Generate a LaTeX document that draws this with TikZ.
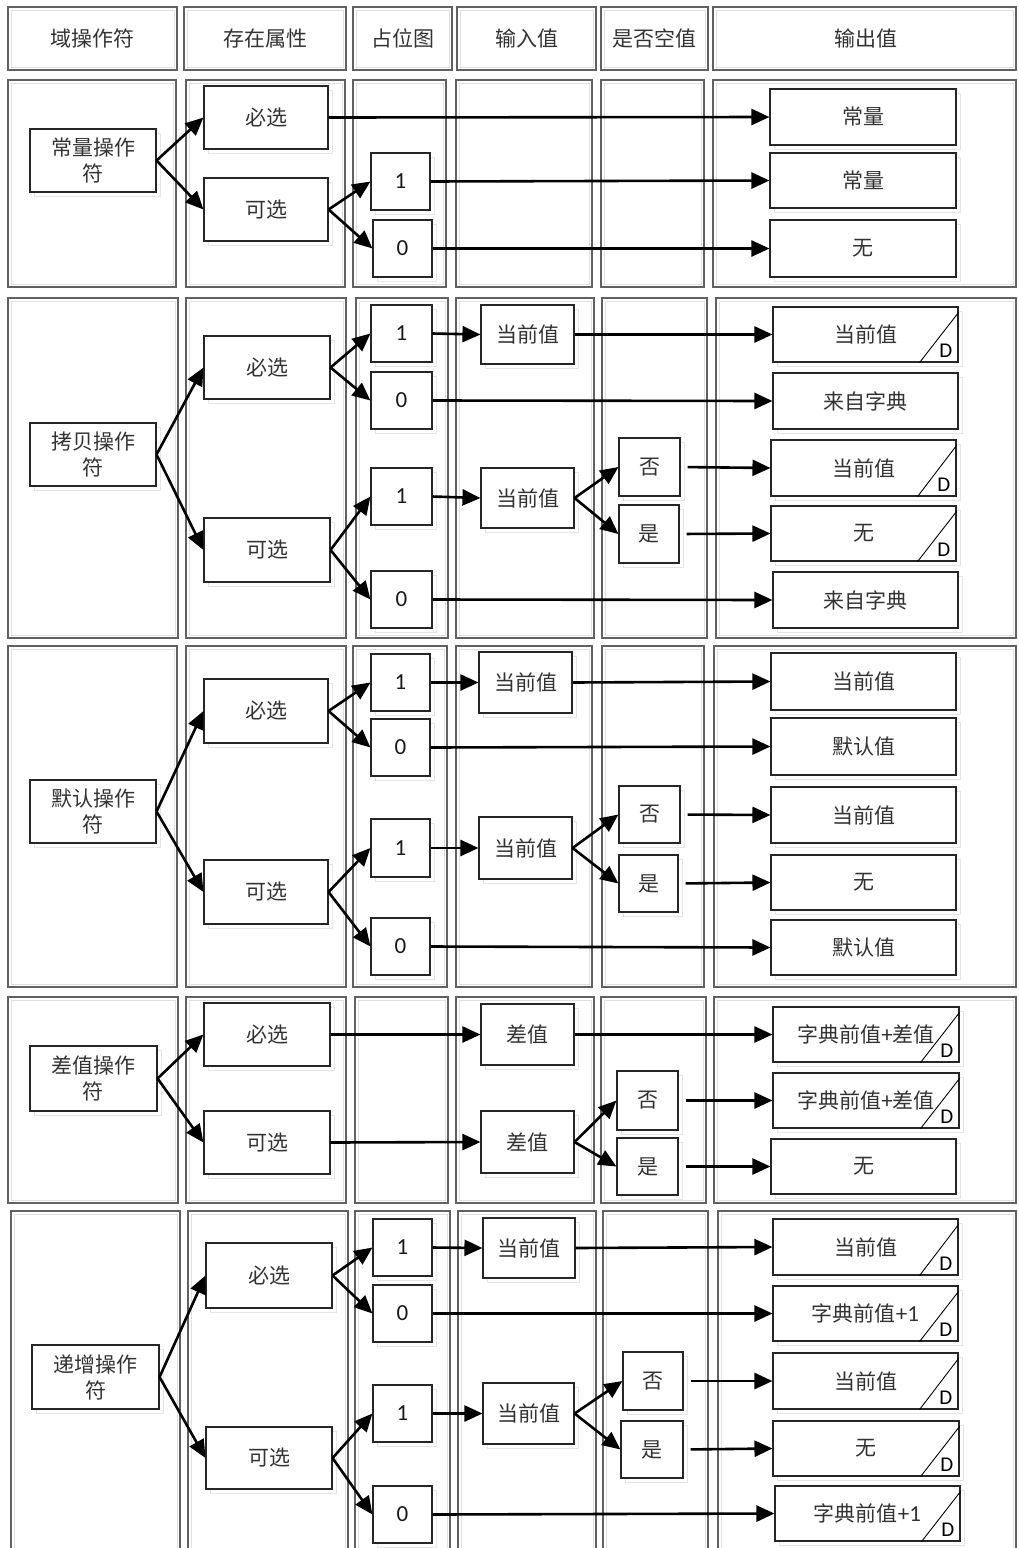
\documentclass[tikz,border=0pt]{standalone}
\usepackage{fontspec}
\setmainfont{Carlito}
\newfontfamily\cjk{Noto Sans CJK SC}
\usetikzlibrary{arrows.meta,calc}
\tikzset{
  colline/.style={draw=black!62, line width=1.1pt},
  colinner/.style={draw=black!12, line width=0.8pt},
  shadeline/.style={draw=black!10, line width=1pt},
  box/.style={draw=black!85, line width=1.1pt, fill=white, inner sep=0pt, align=center,
    text=black!80, font=\cjk\fontsize{21}{26}\selectfont},
  numbox/.style={box, text=black!90, font=\fontsize{23}{26}\selectfont},
  htext/.style={inner sep=0pt, text=black!80, font=\cjk\fontsize{21}{26}\selectfont},
  arr/.style={-{Triangle[length=18pt,width=16pt]}, line width=2.6pt, black},
  gaparr/.style={arr, shorten <=7pt},
  dlabel/.style={inner sep=0pt, text=black, font=\fontsize{21}{21}\selectfont},
  dline/.style={draw=black, line width=0.9pt},
}
\newcommand\colbox[4]{%
  \draw[colline] (#1,#2) rectangle (#3,#4);
  \draw[colinner] (#1+3,#2+3) rectangle (#3-3,#4-3);}
\newcommand\bxt[7][box]{%
  \draw[shadeline] (#3+4,#4+4) rectangle (#5+4,#6+4);
  \node[#1, minimum width={(#5)-(#3)}, minimum height={(#6)-(#4)}] (#2) at ({(#3+#5)/2},{(#4+#6)/2}) {#7};}
\newcommand\dmark[1]{%
  \draw[dline] ($(#1.south east)+(-39,0)$) -- ($(#1.north east)+(0,6)$);
  \node[dlabel, anchor=south east] (#1d) at ($(#1.south east)+(-6,-5)$) {D};}
\newcommand\lat[1]{{\rmfamily\fontsize{23}{26}\selectfont #1}}
\begin{document}
\begin{tikzpicture}[x=1pt,y=-1pt]
\clip (0,0) rectangle (1019,1548);
\fill[white] (0,0) rectangle (1019,1548);

% ---------- header ----------
\colbox{8}{7}{177}{70}
\colbox{184}{7}{346}{70}
\colbox{353}{7}{452}{70}
\colbox{457}{7}{596}{70}
\colbox{601}{7}{708}{70}
\colbox{713}{7}{1016}{70}
\node[htext] (h1) at (92.5,38.5) {域操作符};
\node[htext] (h2) at (265,38.5) {存在属性};
\node[htext] (h3) at (402.5,38.5) {占位图};
\node[htext] (h4) at (526.5,38.5) {输入值};
\node[htext] (h5) at (654.5,38.5) {是否空值};
\node[htext] (h6) at (866,38.5) {输出值};

% ---------- section 1 ----------
\colbox{8}{80}{176}{287}
\colbox{186}{80}{345}{287}
\colbox{353}{80}{446}{287}
\colbox{456}{80}{592}{287}
\colbox{601}{80}{704}{287}
\colbox{713}{80}{1016}{287}
\bxt{a0}{30}{129}{156}{192}{常量操作\\符}
\bxt{a1}{204}{86}{328}{149}{必选}
\bxt{a2}{204}{178}{328}{241}{可选}
\bxt[numbox]{a3}{371}{153}{430}{210}{1}
\bxt[numbox]{a4}{373}{220}{432}{277}{0}
\bxt{a5}{770}{89}{956}{145}{常量}
\bxt{a6}{770}{153}{956}{208}{常量}
\bxt{a7}{770}{220}{956}{277}{无}
\draw[arr] (a0.east) -- (a1.west);
\draw[arr] (a0.east) -- (a2.west);
\draw[arr] (a1.east) -- (a5.west);
\draw[arr] (a2.east) -- (a3.west);
\draw[arr] (a2.east) -- (a4.west);
\draw[arr] (a3.east) -- (a6.west);
\draw[arr] (a4.east) -- (a7.west);

% ---------- section 2 ----------
\colbox{8}{298}{178}{638}
\colbox{186}{298}{346}{638}
\colbox{356}{298}{448}{638}
\colbox{456}{298}{594}{638}
\colbox{602}{298}{707}{638}
\colbox{716}{298}{1016}{638}
\bxt{b0}{30}{423}{156}{486}{拷贝操作\\符}
\bxt{b1}{204}{336}{330}{399}{必选}
\bxt{b2}{204}{518}{330}{582}{可选}
\bxt[numbox]{b3}{371}{305}{432}{362}{1}
\bxt[numbox]{b4}{371}{372}{432}{429}{0}
\bxt[numbox]{b5}{371}{468}{432}{525}{1}
\bxt[numbox]{b6}{371}{571}{432}{628}{0}
\bxt{b7}{481}{305}{574}{364}{当前值}
\bxt{b8}{481}{468}{574}{528}{当前值}
\bxt{b9}{619}{438}{680}{496}{否}
\bxt{b10}{619}{505}{679}{563}{是}
\bxt{b11}{773}{307}{958}{362}{当前值}
\bxt{b12}{773}{373}{958}{429}{来自字典}
\bxt{b13}{771}{440}{956}{496}{当前值}
\bxt{b14}{771}{506}{956}{561}{无}
\bxt{b15}{773}{572}{958}{628}{来自字典}
\dmark{b11}
\dmark{b13}
\dmark{b14}
\draw[arr] (b0.east) -- (b1.west);
\draw[arr] (b0.east) -- (b2.west);
\draw[arr] (b1.east) -- (b3.west);
\draw[arr] (b1.east) -- (b4.west);
\draw[arr] (b2.east) -- (b5.west);
\draw[arr] (b2.east) -- (b6.west);
\draw[arr] (b3.east) -- (b7.west);
\draw[arr] (b7.east) -- (b11.west);
\draw[arr] (b4.east) -- (b12.west);
\draw[arr] (b5.east) -- (b8.west);
\draw[arr] (b8.east) -- (b9.west);
\draw[arr] (b8.east) -- (b10.west);
\draw[gaparr] (b9.east) -- (b13.west);
\draw[gaparr] (b10.east) -- (b14.west);
\draw[arr] (b6.east) -- (b15.west);

% ---------- section 3 ----------
\colbox{8}{646}{177}{987}
\colbox{186}{646}{346}{987}
\colbox{353}{646}{447}{987}
\colbox{456}{646}{592}{987}
\colbox{602}{646}{704}{987}
\colbox{714}{646}{1016}{987}
\bxt{c0}{30}{780}{156}{843}{默认操作\\符}
\bxt{c1}{204}{679}{328}{743}{必选}
\bxt{c2}{204}{860}{328}{924}{可选}
\bxt[numbox]{c3}{371}{654}{430}{711}{1}
\bxt[numbox]{c4}{371}{719}{430}{776}{0}
\bxt[numbox]{c5}{371}{819}{430}{877}{1}
\bxt[numbox]{c6}{371}{918}{430}{975}{0}
\bxt{c7}{479}{652}{572}{713}{当前值}
\bxt{c8}{479}{817}{572}{879}{当前值}
\bxt{c9}{619}{786}{680}{843}{否}
\bxt{c10}{619}{855}{678}{912}{是}
\bxt{c11}{771}{653}{956}{710}{当前值}
\bxt{c12}{771}{718}{956}{775}{默认值}
\bxt{c13}{771}{787}{956}{843}{当前值}
\bxt{c14}{771}{855}{956}{910}{无}
\bxt{c15}{771}{920}{956}{975}{默认值}
\draw[arr] (c0.east) -- (c1.west);
\draw[arr] (c0.east) -- (c2.west);
\draw[arr] (c1.east) -- (c3.west);
\draw[arr] (c1.east) -- (c4.west);
\draw[arr] (c2.east) -- (c5.west);
\draw[arr] (c2.east) -- (c6.west);
\draw[arr] (c3.east) -- (c7.west);
\draw[arr] (c7.east) -- (c11.west);
\draw[arr] (c4.east) -- (c12.west);
\draw[arr] (c5.east) -- (c8.west);
\draw[arr] (c8.east) -- (c9.west);
\draw[arr] (c8.east) -- (c10.west);
\draw[gaparr] (c9.east) -- (c13.west);
\draw[gaparr] (c10.east) -- (c14.west);
\draw[arr] (c6.east) -- (c15.west);

% ---------- section 4 ----------
\colbox{8}{997}{178}{1203}
\colbox{186}{997}{346}{1203}
\colbox{355}{997}{448}{1203}
\colbox{456}{997}{594}{1203}
\colbox{601}{997}{706}{1203}
\colbox{714}{997}{1016}{1203}
\bxt{d0}{30}{1046}{157}{1111}{差值操作\\符}
\bxt{d1}{204}{1003}{330}{1066}{必选}
\bxt{d2}{204}{1111}{330}{1174}{可选}
\bxt{d3}{481}{1004}{574}{1065}{差值}
\bxt{d4}{481}{1111}{574}{1173}{差值}
\bxt{d5}{617}{1071}{678}{1130}{否}
\bxt{d6}{617}{1138}{678}{1195}{是}
\bxt{d7}{773}{1007}{959}{1062}{字典前值\lat{+}差值}
\bxt{d8}{773}{1073}{959}{1128}{字典前值\lat{+}差值}
\bxt{d9}{771}{1139}{956}{1194}{无}
\dmark{d7}
\dmark{d8}
\draw[arr] (d0.east) -- (d1.west);
\draw[arr] (d0.east) -- (d2.west);
\draw[arr] (d1.east) -- (d3.west);
\draw[arr] (d2.east) -- (d4.west);
\draw[arr] (d3.east) -- (d7.west);
\draw[arr] (d4.east) -- (d5.west);
\draw[arr] (d4.east) -- (d6.west);
\draw[gaparr] (d5.east) -- (d8.west);
\draw[gaparr] (d6.east) -- (d9.west);

% ---------- section 5 ----------
\colbox{11}{1211}{180}{1560}
\colbox{188}{1211}{348}{1560}
\colbox{355}{1211}{450}{1560}
\colbox{458}{1211}{596}{1560}
\colbox{603}{1211}{708}{1560}
\colbox{718}{1211}{1016}{1560}
\bxt{e0}{32}{1345}{159}{1409}{递增操作\\符}
\bxt{e1}{206}{1243}{332}{1308}{必选}
\bxt{e2}{206}{1427}{332}{1489}{可选}
\bxt[numbox]{e3}{373}{1219}{432}{1276}{1}
\bxt[numbox]{e4}{373}{1285}{432}{1342}{0}
\bxt[numbox]{e5}{373}{1385}{432}{1442}{1}
\bxt[numbox]{e6}{373}{1486}{432}{1543}{0}
\bxt{e7}{483}{1218}{575}{1278}{当前值}
\bxt{e8}{483}{1383}{574}{1444}{当前值}
\bxt{e9}{623}{1352}{683}{1410}{否}
\bxt{e10}{621}{1421}{683}{1478}{是}
\bxt{e11}{773}{1219}{958}{1275}{当前值}
\bxt{e12}{773}{1286}{958}{1341}{字典前值\lat{+1}}
\bxt{e13}{773}{1353}{958}{1409}{当前值}
\bxt{e14}{773}{1421}{959}{1476}{无}
\bxt{e15}{775}{1486}{960}{1541}{字典前值\lat{+1}}
\dmark{e11}
\dmark{e12}
\dmark{e13}
\dmark{e14}
\dmark{e15}
\draw[arr] (e0.east) -- (e1.west);
\draw[arr] (e0.east) -- (e2.west);
\draw[arr] (e1.east) -- (e3.west);
\draw[arr] (e1.east) -- (e4.west);
\draw[arr] (e2.east) -- (e5.west);
\draw[arr] (e2.east) -- (e6.west);
\draw[arr] (e3.east) -- (e7.west);
\draw[arr] (e7.east) -- (e11.west);
\draw[arr] (e4.east) -- (e12.west);
\draw[arr] (e5.east) -- (e8.west);
\draw[arr] (e8.east) -- (e9.west);
\draw[arr] (e8.east) -- (e10.west);
\draw[gaparr] (e9.east) -- (e13.west);
\draw[gaparr] (e10.east) -- (e14.west);
\draw[arr] (e6.east) -- (e15.west);
\end{tikzpicture}
\end{document}
